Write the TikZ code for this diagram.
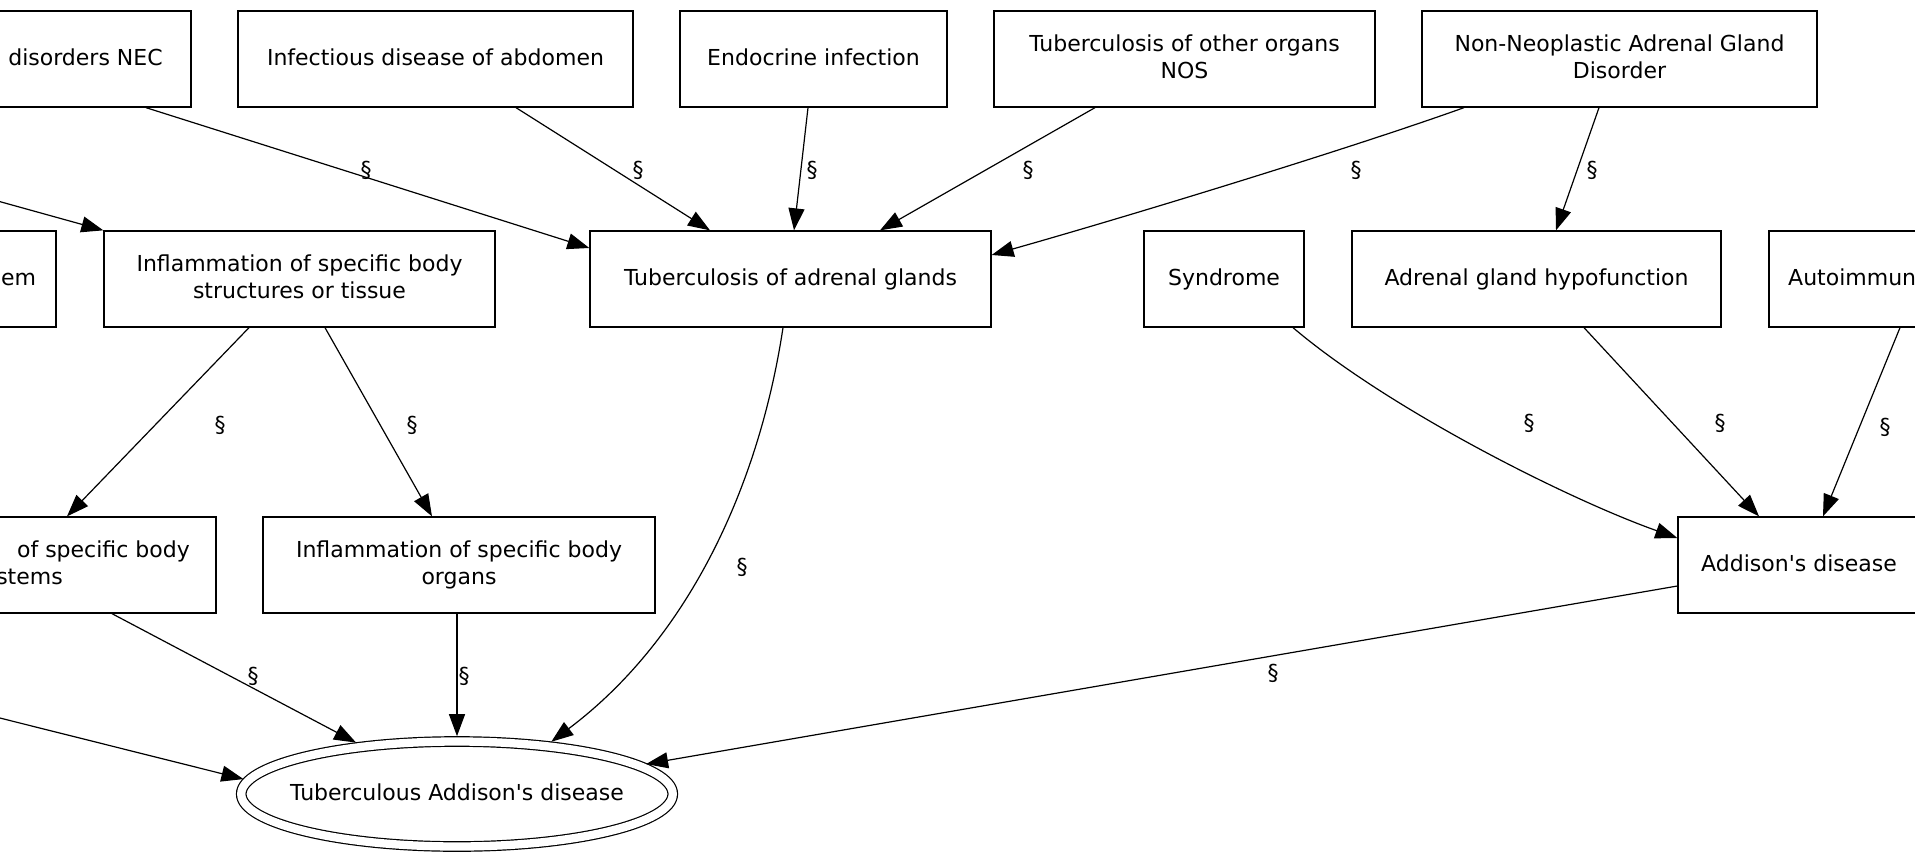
\documentclass[tikz,border=0pt]{standalone}
\usepackage{fontspec}
\setmainfont{DejaVu Sans}
\usetikzlibrary{arrows.meta,calc,shapes.geometric}
% keeps every box label on the same baseline grid
\newcommand\lblstrut{\rule[-5pt]{0pt}{22pt}}
\begin{document}
\begin{tikzpicture}[x=1pt,y=-1pt,
  every node/.style={font=\fontsize{22pt}{27pt}\selectfont},
  box/.style={draw,rectangle,line width=1.3pt,inner sep=0pt,minimum height=96pt,align=center},
  sect/.style={inner sep=0pt},
  link/.style={line width=1.2pt,-{Triangle[length=22pt,width=16pt]}},
  cutr/.style={inner sep=0pt,anchor=base east},
  cutl/.style={inner sep=0pt,anchor=base west},
]
\useasboundingbox (0,0) rectangle (1915,854);
\fill[white] (0,0) rectangle (1915,854);
\clip (0,0) rectangle (1915,854);

% top row
\node[box,minimum width=211pt] (nec) at (85.5,59) {\lblstrut disorders NEC\lblstrut};
\node[box,minimum width=395pt] (inf) at (435.5,59) {\lblstrut Infectious disease of abdomen\lblstrut};
\node[box,minimum width=267pt] (endo) at (813.5,59) {\lblstrut Endocrine infection\lblstrut};
\node[box,minimum width=381pt] (tbo) at (1184.5,59) {\lblstrut Tuberculosis of other organs\\NOS\lblstrut};
\node[box,minimum width=395pt] (nonneo) at (1619.5,59) {\lblstrut Non-Neoplastic Adrenal Gland\\Disorder\lblstrut};

% middle row
\node[box,minimum width=116pt] (emsys) at (-2,279) {};
\node[cutl] (emtxt) at (1,285) {em};
\node[box,minimum width=391pt] (infst) at (299.5,279) {\lblstrut Inflammation of specific body\\structures or tissue\lblstrut};
\node[box,minimum width=401pt] (tbadr) at (790.5,279) {\lblstrut Tuberculosis of adrenal glands\lblstrut};
\node[box,minimum width=160pt] (synd) at (1224,279) {\lblstrut Syndrome\lblstrut};
\node[box,minimum width=369pt] (hypo) at (1536.5,279) {\lblstrut Adrenal gland hypofunction\lblstrut};
\node[box,minimum width=300pt] (autoi) at (1919,279) {};
\node[cutl] (autotxt) at (1788,285) {Autoimmun};

% lower row
\node[box,minimum width=393pt] (syst) at (19.5,565) {};
\node[cutr] (systa) at (190,557.5) {of specific body};
\node[cutr] (systb) at (63,584.5) {stems};
\node[box,minimum width=392pt] (organs) at (459,565) {\lblstrut Inflammation of specific body\\organs\lblstrut};
\node[box,minimum width=242pt] (addis) at (1799,565) {\lblstrut Addison\textquotesingle s disease\lblstrut};

% focus concept
\node[ellipse,draw,double,double distance=8.3pt,line width=1.2pt,
      minimum width=431.5pt,minimum height=105pt,inner xsep=-60pt,inner ysep=0pt,
      outer sep=5.3pt,text height=17pt,text depth=5pt] (tad) at (457,794)
      {Tuberculous Addison\textquotesingle s disease};

% loose ends entering from the left
\coordinate (offA) at (-60,185);
\coordinate (offB) at (-60,703);

% connectors
\draw[link] ($(nec.south)+(60.5,0)$) -- ($(tbadr.west)+(0,-31)$);
\draw[link] ($(inf.south)+(80.5,0)$) -- ($(tbadr.north)+(-80.5,0)$);
\draw[link] ($(endo.south)+(-5.5,0)$) -- ($(tbadr.north)+(3.5,0)$);
\draw[link] ($(tbo.south)+(-89.5,0)$) -- ($(tbadr.north)+(89.5,0)$);
\draw[link] ($(nonneo.south)+(-155.5,0)$) .. controls (1360,145) and (1150,210) .. ($(tbadr.east)+(0,-24)$);
\draw[link] ($(nonneo.south)+(-20.5,0)$) -- ($(hypo.north)+(19.5,0)$);
\draw[link] (offA) -- (infst.north west);
\draw[link] ($(infst.south)+(-50.5,0)$) -- ($(syst.north)+(47.5,0)$);
\draw[link] ($(infst.south)+(25.5,0)$) -- ($(organs.north)+(-27,0)$);
\draw[link] ($(tbadr.south)+(-7.5,0)$) .. controls (760,480) and (692,636) .. (tad.29);
\draw[link] ($(synd.south)+(69,0)$) .. controls (1390,410) and (1570,500) .. ($(addis.west)+(0,-27)$);
\draw[link] ($(hypo.south)+(47.5,0)$) -- ($(addis.north)+(-40,0)$);
\draw[link] ($(autoi.south)+(-19,0)$) -- ($(addis.north)+(24,0)$);
\draw[link] ($(syst.south)+(92.5,0)$) -- (tad.153);
\draw[link] ($(organs.south)+(-2,0)$) -- (tad.90);
\draw[link] ($(addis.west)+(0,21)$) -- (tad.9);
\draw[link] (offB) -- (tad.176);

% connector labels
\node[sect] (l1) at (366,170) {§};
\node[sect] (l2) at (638,170) {§};
\node[sect] (l3) at (812,170) {§};
\node[sect] (l4) at (1028,170) {§};
\node[sect] (l5) at (1356,170) {§};
\node[sect] (l6) at (1592,170) {§};
\node[sect] (l8) at (220,425) {§};
\node[sect] (l9) at (412,425) {§};
\node[sect] (l10) at (742,567) {§};
\node[sect] (l11) at (1529,423) {§};
\node[sect] (l12) at (1720,423) {§};
\node[sect] (l13) at (1885,427) {§};
\node[sect] (l14) at (253,676) {§};
\node[sect] (l15) at (464,676) {§};
\node[sect] (l16) at (1273,673) {§};
\end{tikzpicture}
\end{document}
